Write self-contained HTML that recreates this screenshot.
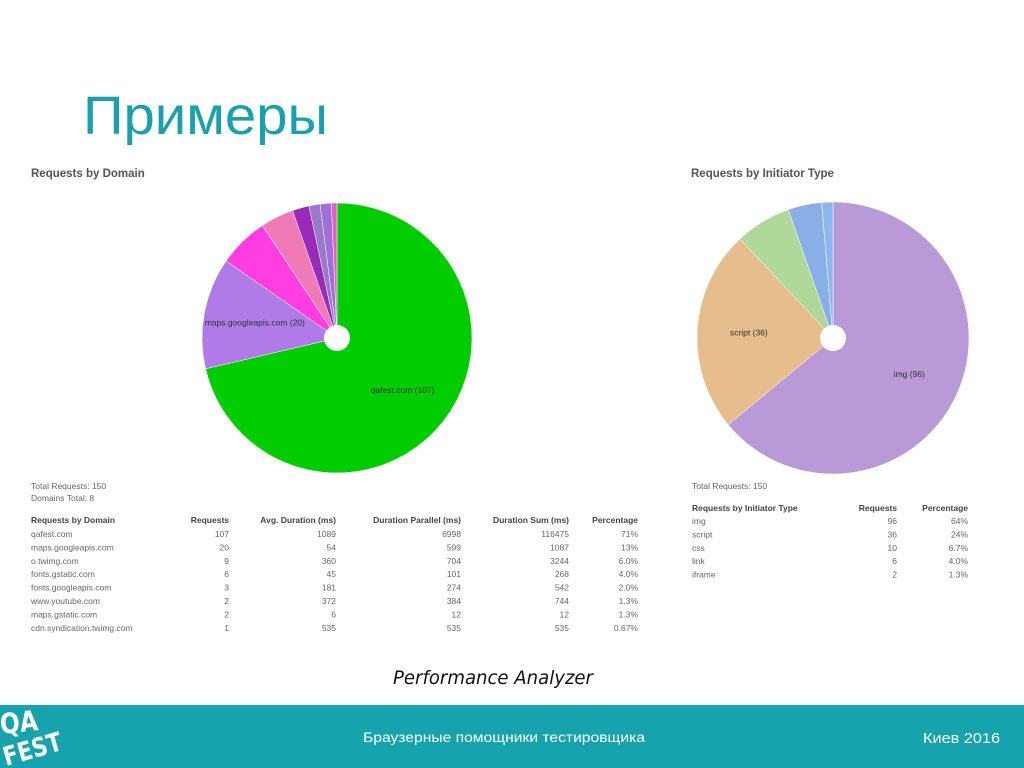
<!DOCTYPE html>
<html><head><meta charset="utf-8"><style>
html,body{margin:0;padding:0;background:#fff;}
svg{display:block;font-family:"Liberation Sans",Arial,sans-serif;}
</style></head><body>
<svg id="s" width="1024" height="768" viewBox="0 0 1024 768">
<text x="83" y="134" font-size="54" fill="#1aa0ad" textLength="245" lengthAdjust="spacingAndGlyphs">Примеры</text>
<text x="31" y="177" font-size="11.5" font-weight="bold" fill="#555">Requests by Domain</text>
<text x="691" y="177" font-size="11.5" font-weight="bold" fill="#555">Requests by Initiator Type</text>
<g id="pie1"></g>
<g id="pie2"></g>
<g id="tables" font-size="8.5" fill="#666"></g>
<text x="493" y="684" font-size="19" font-style="italic" text-anchor="middle" fill="#111" font-family="'DejaVu Sans',sans-serif" textLength="200" lengthAdjust="spacingAndGlyphs">Performance Analyzer</text>
<rect x="0" y="705" width="1024" height="63" fill="#17a3ae"/>
<g fill="#fff" font-weight="bold" font-family="'DejaVu Sans',sans-serif">
<text x="1" y="734" font-size="28" textLength="38" lengthAdjust="spacingAndGlyphs" transform="rotate(-6 1 734)">QA</text>
<text x="6" y="766" font-size="26" textLength="60" lengthAdjust="spacingAndGlyphs" transform="rotate(-16 6 766)">FEST</text>
</g>
<text x="363" y="742" font-size="14" fill="#fff" textLength="282" lengthAdjust="spacingAndGlyphs">Браузерные помощники тестировщика</text>
<text x="923" y="743" font-size="15" fill="#fff" textLength="77" lengthAdjust="spacingAndGlyphs">Киев 2016</text>
</svg>
<script>
const domainNames=["qafest.com","maps.googleapis.com","o.twimg.com","fonts.gstatic.com","fonts.googleapis.com","www.youtube.com","maps.gstatic.com","cdn.syndication.twimg.com"];
const domainRequests=[107,20,9,6,3,2,2,1];
const domainAvg=[1089,54,360,45,181,372,6,535];
const domainParallel=[6998,599,704,101,274,384,12,535];
const domainSum=[116475,1087,3244,268,542,744,12,535];
const domainPct=["71%","13%","6.0%","4.0%","2.0%","1.3%","1.3%","0.67%"];
const domainColors=["#00cc00","#b07ae8","#ff3de0","#f07ab8","#9a2ab8","#9a7ac8","#a070d8","#e85cc8"];
const initNames=["img","script","css","link","iframe"];
const initRequests=[96,36,10,6,2];
const initPct=["64%","24%","6.7%","4.0%","1.3%"];
const initColors=["#b99ad6","#e6bd8c","#b0d89a","#8aaee6","#8cb8f0"];
const NS="http://www.w3.org/2000/svg";
function mk(t,a,p){const e=document.createElementNS(NS,t);for(const k in a)e.setAttribute(k,a[k]);p.appendChild(e);return e;}
function pie(g,cx,cy,r,vals,cols,names,labelIdx){
  const tot=vals.reduce((a,b)=>a+b,0);let a0=0;
  vals.forEach((v,i)=>{
    const a1=a0+v/tot*2*Math.PI;
    const x0=cx+r*Math.sin(a0),y0=cy-r*Math.cos(a0),x1=cx+r*Math.sin(a1),y1=cy-r*Math.cos(a1);
    const p=mk("path",{d:`M${cx},${cy}L${x0},${y0}A${r},${r} 0 ${a1-a0>Math.PI?1:0} 1 ${x1},${y1}Z`,fill:cols[i],stroke:"#fff","stroke-width":0.5},g);
    
    
    if(labelIdx.includes(i)){
      const m=(a0+a1)/2;const lx=cx+r*0.62*Math.sin(m),ly=cy-r*0.62*Math.cos(m);
      const t=mk("text",{x:lx,y:ly+3,"font-size":8.5,fill:"#333","text-anchor":"middle"},g);
      t.textContent=names[i]+" ("+v+")";
      
      
    }
    a0=a1;
  });
  const c=mk("circle",{cx:cx,cy:cy,r:13,fill:"#fff"},g);
  
  
}
pie(document.getElementById("pie1"),337,338,135,domainRequests,domainColors,domainNames,[0,1]);
pie(document.getElementById("pie2"),833,338,136,initRequests,initColors,initNames,[0,1]);
const T=document.getElementById("tables");
function txt(x,y,s,anchor,bold,name){const t=mk("text",{x:x,y:y,"text-anchor":anchor||"start"},T);if(bold){t.setAttribute("font-weight","bold");t.setAttribute("fill","#444");}t.textContent=s;return t;}
txt(31,489,"Total Requests: 150","start",false,"domain-total");
txt(31,501,"Domains Total: 8","start",false,"domains-count");
const hx=[31,229,336,461,569,638];
const hd=["Requests by Domain","Requests","Avg. Duration (ms)","Duration Parallel (ms)","Duration Sum (ms)","Percentage"];
hd.forEach((h,i)=>txt(hx[i],523,h,i?"end":"start",true,"domain-table-header"));
domainNames.forEach((n,r)=>{
  const y=537+r*13.4;
  txt(hx[0],y,n,"start",false,"domain-cell");
  [domainRequests[r],domainAvg[r],domainParallel[r],domainSum[r],domainPct[r]].forEach((v,i)=>txt(hx[i+1],y,String(v),"end",false,"domain-cell"));
});
txt(692,489,"Total Requests: 150","start",false,"initiator-total");
const ix=[692,897,968];
["Requests by Initiator Type","Requests","Percentage"].forEach((h,i)=>txt(ix[i],511,h,i?"end":"start",true,"initiator-table-header"));
initNames.forEach((n,r)=>{
  const y=524+r*13.4;
  txt(ix[0],y,n,"start",false,"initiator-cell");
  txt(ix[1],y,String(initRequests[r]),"end",false,"initiator-cell");
  txt(ix[2],y,initPct[r],"end",false,"initiator-cell");
});
</script>
</body></html>
